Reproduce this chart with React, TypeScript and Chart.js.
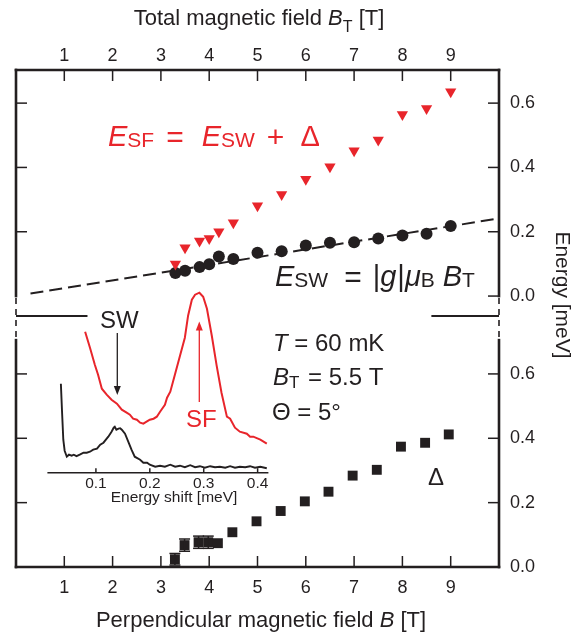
import React, { useEffect, useRef } from 'react';
import { Chart, registerables } from 'chart.js';

Chart.register(...registerables);

const FONT = '"Liberation Sans", Arial, Helvetica, sans-serif';
const INK = '#231f20';
const RED = '#e8252b';

// ---------- data ----------
const xTickValues = [1, 2, 3, 4, 5, 6, 7, 8, 9];
const energyTicks = [0, 0.2, 0.4, 0.6];
const insetTicks = [0.1, 0.2, 0.3, 0.4];

// total field B_T [T] and energies [meV] (upper panel)
const fieldTotal = [3.3, 3.5, 3.8, 4.0, 4.2, 4.5, 5.0, 5.5, 6.0, 6.5, 7.0, 7.5, 8.0, 8.5, 9.0];
const energySW = [0.072, 0.079, 0.09, 0.099, 0.123, 0.115, 0.135, 0.139, 0.157, 0.166, 0.167, 0.179, 0.188, 0.194, 0.218];
const energySF = [0.1, 0.15, 0.171, 0.179, 0.2, 0.228, 0.281, 0.316, 0.363, 0.402, 0.452, 0.485, 0.565, 0.583, 0.635];

// linear fit E_SW = |g| muB B_T (end points)
const fitField = [0.3, 9.9];
const fitEnergy = [0.008, 0.239];

// perpendicular field B [T] and gap Delta [meV] (lower panel)
const fieldPerp = [3.29, 3.49, 3.78, 3.98, 4.18, 4.48, 4.98, 5.48, 5.98, 6.47, 6.97, 7.47, 7.97, 8.47, 8.96];
const gapDelta = [0.024, 0.068, 0.077, 0.077, 0.074, 0.108, 0.142, 0.174, 0.204, 0.234, 0.284, 0.302, 0.374, 0.386, 0.412];
const gapError = [0.018, 0.019, 0.019, 0.019, 0, 0, 0, 0, 0, 0, 0, 0, 0, 0, 0];

// inset spectra: energy shift [meV] vs intensity [arb. units]
const shiftRed = [0.08, 0.089, 0.098, 0.104, 0.111, 0.12, 0.129, 0.139, 0.148, 0.157, 0.163, 0.169, 0.176, 0.182, 0.188, 0.194, 0.2, 0.207, 0.213, 0.219, 0.228, 0.232, 0.238, 0.247, 0.256, 0.265, 0.271, 0.278, 0.284, 0.292, 0.299, 0.306, 0.315, 0.324, 0.333, 0.343, 0.349, 0.358, 0.367, 0.38, 0.386, 0.392, 0.405, 0.417];
const intensityRed = [1.41, 1.25, 1.08, 0.98, 0.84, 0.78, 0.73, 0.69, 0.63, 0.6, 0.58, 0.54, 0.53, 0.5, 0.49, 0.51, 0.53, 0.54, 0.56, 0.61, 0.68, 0.75, 0.81, 0.99, 1.17, 1.35, 1.57, 1.73, 1.78, 1.8, 1.76, 1.64, 1.37, 1.07, 0.8, 0.56, 0.54, 0.45, 0.41, 0.39, 0.36, 0.36, 0.33, 0.29];
const shiftBlack = [0.035, 0.037, 0.0395, 0.042, 0.046, 0.05, 0.055, 0.059, 0.064, 0.07, 0.077, 0.083, 0.089, 0.095, 0.102, 0.108, 0.114, 0.12, 0.123, 0.129, 0.133, 0.135, 0.138, 0.142, 0.145, 0.148, 0.154, 0.16, 0.166, 0.172, 0.182, 0.188, 0.195, 0.2, 0.21, 0.219, 0.228, 0.238, 0.247, 0.256, 0.265, 0.275, 0.284, 0.293, 0.302, 0.312, 0.321, 0.33, 0.34, 0.349, 0.358, 0.367, 0.377, 0.386, 0.395, 0.405, 0.417];
const intensityBlack = [0.89, 0.63, 0.33, 0.22, 0.16, 0.18, 0.17, 0.18, 0.165, 0.18, 0.2, 0.2, 0.21, 0.23, 0.24, 0.28, 0.3, 0.34, 0.36, 0.41, 0.45, 0.46, 0.43, 0.44, 0.445, 0.43, 0.39, 0.31, 0.23, 0.16, 0.13, 0.1, 0.1, 0.08, 0.06, 0.07, 0.06, 0.08, 0.06, 0.07, 0.055, 0.075, 0.055, 0.065, 0.05, 0.065, 0.055, 0.06, 0.05, 0.065, 0.05, 0.06, 0.055, 0.065, 0.05, 0.06, 0.045];

// ---------- helpers ----------
type Seg = { t: string; size: number; it?: boolean; dy?: number; gap?: number };

function fontOf(s: Seg) {
  return `${s.it ? 'italic ' : ''}${s.size}px ${FONT}`;
}

function drawRich(ctx: CanvasRenderingContext2D, x: number, y: number, segs: Seg[], color: string, align: 'left' | 'center' = 'left') {
  ctx.save();
  ctx.fillStyle = color;
  ctx.textBaseline = 'alphabetic';
  ctx.textAlign = 'left';
  const widths = segs.map((s) => {
    ctx.font = fontOf(s);
    return ctx.measureText(s.t).width;
  });
  const total = segs.reduce((a, s, i) => a + widths[i] + (s.gap || 0), 0);
  let cx = align === 'center' ? x - total / 2 : x;
  segs.forEach((s, i) => {
    cx += s.gap || 0;
    ctx.font = fontOf(s);
    ctx.fillText(s.t, cx, y + (s.dy || 0));
    cx += widths[i];
  });
  ctx.restore();
}

function line(ctx: CanvasRenderingContext2D, x1: number, y1: number, x2: number, y2: number) {
  ctx.beginPath();
  ctx.moveTo(x1, y1);
  ctx.lineTo(x2, y2);
  ctx.stroke();
}

function arrow(ctx: CanvasRenderingContext2D, x: number, yFrom: number, yTo: number, color: string) {
  ctx.save();
  ctx.strokeStyle = color;
  ctx.fillStyle = color;
  ctx.lineWidth = 1.3;
  const dir = yTo > yFrom ? 1 : -1;
  line(ctx, x, yFrom, x, yTo - dir * 6);
  ctx.beginPath();
  ctx.moveTo(x, yTo);
  ctx.lineTo(x - 3.5, yTo - dir * 9);
  ctx.lineTo(x + 3.5, yTo - dir * 9);
  ctx.closePath();
  ctx.fill();
  ctx.restore();
}

const mainDecor = {
  id: 'mainDecor',
  afterDatasetsDraw(chart: any) {
    const ctx: CanvasRenderingContext2D = chart.ctx;
    const xs = chart.scales.x;
    const yb = chart.scales.yBot;
    ctx.save();
    ctx.strokeStyle = INK;
    ctx.lineWidth = 1.5;
    fieldPerp.forEach((b, i) => {
      const e = gapError[i];
      if (!e) return;
      const px = xs.getPixelForValue(b);
      const y1 = yb.getPixelForValue(gapDelta[i] + e);
      const y2 = yb.getPixelForValue(gapDelta[i] - e);
      line(ctx, px, y1, px, y2);
      line(ctx, px - 5.5, y1, px + 5.5, y1);
      line(ctx, px - 5.5, y2, px + 5.5, y2);
    });
    ctx.restore();
  },
  afterDraw(chart: any) {
    const ctx: CanvasRenderingContext2D = chart.ctx;
    const { left, right, top, bottom } = chart.chartArea;
    const xs = chart.scales.x;
    const yt = chart.scales.yTop;
    const yb = chart.scales.yBot;
    const mid = yt.bottom;
    ctx.save();
    ctx.strokeStyle = INK;
    ctx.lineCap = 'square';
    ctx.lineWidth = 2.6;
    line(ctx, left, top, right, top);
    line(ctx, left, bottom, right, bottom);
    const solidEnd = yt.getPixelForValue(0);
    const solidStart = yb.getPixelForValue(0.705);
    [left, right].forEach((ex) => {
      line(ctx, ex, top, ex, solidEnd);
      line(ctx, ex, solidStart, ex, bottom);
    });
    ctx.lineCap = 'butt';
    ctx.lineWidth = 1.6;
    ctx.setLineDash([6, 5]);
    [left, right].forEach((ex) => line(ctx, ex, solidEnd + 2, ex, solidStart));
    ctx.setLineDash([]);
    // axis break marks
    ctx.lineWidth = 2.2;
    line(ctx, left, mid, xs.getPixelForValue(1.48), mid);
    line(ctx, xs.getPixelForValue(8.6), mid, right, mid);
    // inward ticks
    ctx.lineWidth = 1.5;
    const L = 11;
    xTickValues.forEach((v) => {
      const px = xs.getPixelForValue(v);
      line(ctx, px, top, px, top + L);
      line(ctx, px, bottom, px, bottom - L);
    });
    energyTicks.forEach((v) => {
      const py = yt.getPixelForValue(v);
      line(ctx, right, py, right - L, py);
      if (v > 0) line(ctx, left, py, left + L, py);
      if (v > 0) {
        const pb = yb.getPixelForValue(v);
        line(ctx, right, pb, right - L, pb);
        line(ctx, left, pb, left + L, pb);
      }
    });
    ctx.restore();

    // axis titles
    drawRich(ctx, 259, 25, [
      { t: 'Total magnetic field ', size: 22 },
      { t: 'B', size: 22, it: true },
      { t: 'T', size: 16, dy: 7 },
      { t: ' [T]', size: 22 },
    ], INK, 'center');
    drawRich(ctx, 261, 627, [
      { t: 'Perpendicular magnetic field ', size: 22 },
      { t: 'B', size: 22, it: true },
      { t: ' [T]', size: 22 },
    ], INK, 'center');
    ctx.save();
    ctx.translate(562, 295);
    ctx.rotate(Math.PI / 2);
    ctx.font = `21px ${FONT}`;
    ctx.fillStyle = INK;
    ctx.textAlign = 'center';
    ctx.textBaseline = 'middle';
    ctx.fillText('Energy [meV]', 0, 0);
    ctx.restore();

    // formulas
    drawRich(ctx, 108, 146, [
      { t: 'E', size: 29, it: true },
      { t: 'SF', size: 21, dy: 1 },
      { t: '=', size: 30, gap: 12, dy: 1 },
      { t: 'E', size: 29, it: true, gap: 18 },
      { t: 'SW', size: 21, dy: 1 },
      { t: '+', size: 30, gap: 12, dy: 1 },
      { t: 'Δ', size: 29, gap: 16 },
    ], RED);
    drawRich(ctx, 275, 286, [
      { t: 'E', size: 29, it: true },
      { t: 'SW', size: 21, dy: 1 },
      { t: '=', size: 30, gap: 16, dy: 1 },
      { t: '|', size: 29, gap: 11 },
      { t: 'g', size: 29, it: true },
      { t: '|', size: 29, gap: 1 },
      { t: 'μ', size: 29, it: true },
      { t: 'B', size: 21, dy: 1 },
      { t: 'B', size: 29, it: true, gap: 8 },
      { t: 'T', size: 21, dy: 1 },
    ], INK);

    // conditions
    drawRich(ctx, 273, 351, [
      { t: 'T', size: 24, it: true },
      { t: ' = 60 mK', size: 24 },
    ], INK);
    drawRich(ctx, 273, 385, [
      { t: 'B', size: 24, it: true },
      { t: 'T', size: 17, dy: 3 },
      { t: ' = 5.5 T', size: 24, gap: 2 },
    ], INK);
    drawRich(ctx, 272, 420, [
      { t: 'Θ = 5°', size: 24 },
    ], INK);
    drawRich(ctx, 428, 485, [{ t: 'Δ', size: 24 }], INK);

    // inset labels and arrows
    drawRich(ctx, 100, 327.5, [{ t: 'SW', size: 24 }], INK);
    drawRich(ctx, 186, 426.5, [{ t: 'SF', size: 24 }], RED);
    arrow(ctx, 117.3, 333, 395, INK);
    arrow(ctx, 199.3, 402, 321.5, RED);
  },
};

const insetDecor = {
  id: 'insetDecor',
  afterDraw(chart: any) {
    const ctx: CanvasRenderingContext2D = chart.ctx;
    const { left, right, bottom } = chart.chartArea;
    const xs = chart.scales.x;
    ctx.save();
    ctx.strokeStyle = INK;
    ctx.lineWidth = 1.5;
    line(ctx, left, bottom, right, bottom);
    insetTicks.forEach((v) => {
      const px = xs.getPixelForValue(v);
      line(ctx, px, bottom, px, bottom - 4.5);
    });
    ctx.restore();
    drawRich(ctx, 134, 222, [{ t: 'Energy shift [meV]', size: 15.5 }], INK, 'center');
  },
};

export default function App() {
  const mainRef = useRef<HTMLCanvasElement | null>(null);
  const insetRef = useRef<HTMLCanvasElement | null>(null);

  useEffect(() => {
    Chart.defaults.font.family = FONT;
    const tickFont = { family: FONT, size: 18 };

    const main = new Chart(mainRef.current as HTMLCanvasElement, {
      type: 'scatter',
      data: {
        datasets: [
          {
            type: 'line',
            label: 'fit',
            data: fitField.map((x, i) => ({ x, y: fitEnergy[i] })),
            xAxisID: 'x',
            yAxisID: 'yTop',
            borderColor: INK,
            borderWidth: 2,
            borderDash: [13, 6],
            pointRadius: 0,
            fill: false,
            order: 10,
          } as any,
          {
            label: 'E_SW',
            data: fieldTotal.map((x, i) => ({ x, y: energySW[i] })),
            xAxisID: 'x',
            yAxisID: 'yTop',
            pointStyle: 'circle',
            pointRadius: 6,
            pointBackgroundColor: INK,
            pointBorderWidth: 0,
            order: 2,
          } as any,
          {
            label: 'E_SF',
            data: fieldTotal.map((x, i) => ({ x, y: energySF[i] })),
            xAxisID: 'x',
            yAxisID: 'yTop',
            pointStyle: 'triangle',
            pointRotation: 180,
            pointRadius: 6.5,
            pointBackgroundColor: RED,
            pointBorderWidth: 0,
            order: 1,
          } as any,
          {
            label: 'Delta',
            data: fieldPerp.map((x, i) => ({ x, y: gapDelta[i] })),
            xAxisID: 'x',
            yAxisID: 'yBot',
            pointStyle: 'rect',
            pointRadius: 7,
            pointBackgroundColor: INK,
            pointBorderWidth: 0,
            order: 1,
          } as any,
        ],
      },
      options: {
        animation: false,
        responsive: false,
        events: [],
        layout: { padding: { left: 16, right: 0, top: 0, bottom: 0 }, autoPadding: false },
        plugins: { legend: { display: false }, tooltip: { enabled: false } },
        scales: {
          x: {
            type: 'linear',
            position: 'bottom',
            min: 0,
            max: 10,
            grid: { display: false, drawTicks: false },
            border: { display: false },
            ticks: { font: tickFont, color: INK, padding: 10, maxRotation: 0, autoSkip: false, callback: (v: any) => String(v) },
            afterBuildTicks: (s: any) => { s.ticks = xTickValues.map((v) => ({ value: v })); },
            afterFit: (s: any) => { s.height = 66; },
          },
          xTop: {
            type: 'linear',
            position: 'top',
            min: 0,
            max: 10,
            grid: { display: false, drawTicks: false },
            border: { display: false },
            ticks: { font: tickFont, color: INK, padding: 3, maxRotation: 0, autoSkip: false, callback: (v: any) => String(v) },
            afterBuildTicks: (s: any) => { s.ticks = xTickValues.map((v) => ({ value: v })); },
            afterFit: (s: any) => { s.height = 70; },
          },
          yTop: {
            type: 'linear',
            position: 'right',
            stack: 'energy',
            stackWeight: 246,
            min: -0.062,
            max: 0.703,
            grid: { display: false, drawTicks: false },
            border: { display: false },
            ticks: { font: tickFont, color: INK, padding: 11, autoSkip: false, callback: (v: any) => Number(v).toFixed(1) },
            afterBuildTicks: (s: any) => { s.ticks = energyTicks.map((v) => ({ value: v })); },
            afterFit: (s: any) => { s.width = 82; },
          },
          yBot: {
            type: 'linear',
            position: 'right',
            stack: 'energy',
            stackWeight: 251,
            min: 0,
            max: 0.78,
            grid: { display: false, drawTicks: false },
            border: { display: false },
            ticks: { font: tickFont, color: INK, padding: 11, autoSkip: false, callback: (v: any) => Number(v).toFixed(1) },
            afterBuildTicks: (s: any) => { s.ticks = energyTicks.map((v) => ({ value: v })); },
            afterFit: (s: any) => { s.width = 82; },
          },
        },
      } as any,
      plugins: [mainDecor],
    });

    const inset = new Chart(insetRef.current as HTMLCanvasElement, {
      type: 'line',
      data: {
        datasets: [
          {
            label: 'SF spectrum',
            data: shiftRed.map((x, i) => ({ x, y: intensityRed[i] })),
            borderColor: RED,
            borderWidth: 2,
            pointRadius: 0,
            tension: 0,
            fill: false,
            clip: false,
          } as any,
          {
            label: 'SW spectrum',
            data: shiftBlack.map((x, i) => ({ x, y: intensityBlack[i] })),
            borderColor: INK,
            borderWidth: 1.9,
            pointRadius: 0,
            tension: 0,
            fill: false,
            clip: false,
          } as any,
        ],
      },
      options: {
        animation: false,
        responsive: false,
        events: [],
        layout: { padding: { left: 7.4, right: 11.6, top: 5, bottom: 0 }, autoPadding: false },
        plugins: { legend: { display: false }, tooltip: { enabled: false } },
        scales: {
          x: {
            type: 'linear',
            position: 'bottom',
            min: 0.01,
            max: 0.42,
            grid: { display: false, drawTicks: false },
            border: { display: false },
            ticks: { font: { family: FONT, size: 15.5 }, color: INK, padding: 2, maxRotation: 0, autoSkip: false, callback: (v: any) => Number(v).toFixed(1) },
            afterBuildTicks: (s: any) => { s.ticks = insetTicks.map((v) => ({ value: v })); },
            afterFit: (s: any) => { s.height = 37.3; },
          },
          y: { type: 'linear', display: false, min: 0, max: 1.877 },
        },
      } as any,
      plugins: [insetDecor],
    });

    return () => {
      main.destroy();
      inset.destroy();
    };
  }, []);

  return (
    <div style={{ position: 'absolute', left: 0, top: 0, width: 581, height: 633, background: '#ffffff' }}>
      <canvas ref={mainRef} width={581} height={633} style={{ position: 'absolute', left: 0, top: 0, width: 581, height: 633 }} />
      <canvas ref={insetRef} width={240} height={230} style={{ position: 'absolute', left: 40, top: 280, width: 240, height: 230 }} />
    </div>
  );
}
